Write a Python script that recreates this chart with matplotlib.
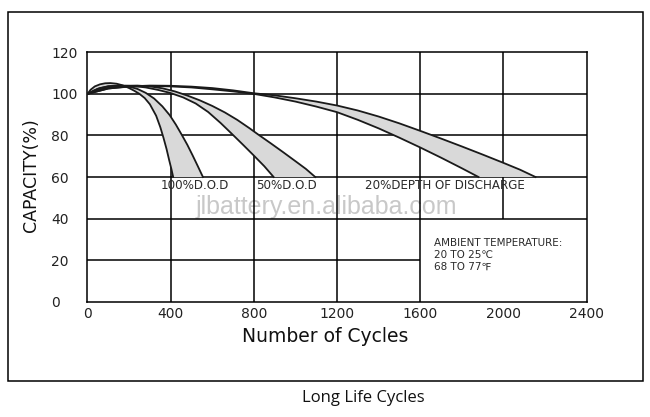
import numpy as np
import matplotlib
matplotlib.use("Agg")
import matplotlib.pyplot as plt
from matplotlib.patches import Rectangle

# capacity (%) vs cycles
# each depth of discharge band has a left (fast) and right (slow) edge
dod100_left_x = [0, 15, 35, 60, 85, 110, 140, 170, 200, 225, 250, 275, 300, 330, 350, 365, 380, 393, 403, 412]
dod100_left_y = [100, 102, 103.6, 104.6, 105.1, 105.2, 104.9, 104.1, 102.8, 101.5, 100, 98, 95, 89.5, 84, 79, 73.5, 68, 64, 60]
dod100_right_x = [0, 30, 60, 100, 150, 200, 240, 280, 320, 360, 395, 425, 455, 480, 505, 530, 555]
dod100_right_y = [100, 101.6, 102.8, 103.7, 104, 103.5, 102.4, 100.5, 97.8, 94, 89.8, 85.2, 80, 75.5, 70.5, 65.3, 60]

dod50_left_x = [0, 50, 100, 160, 220, 280, 340, 400, 460, 520, 580, 640, 700, 750, 800, 850, 895]
dod50_left_y = [100, 102.5, 103.6, 104, 103.8, 103.1, 101.9, 100.4, 98.3, 95.4, 91.3, 86.0, 80.2, 75.3, 70.3, 65.2, 60]
dod50_right_x = [0, 60, 120, 180, 240, 300, 360, 420, 480, 540, 600, 660, 720, 780, 820, 880, 940, 1000, 1050, 1095]
dod50_right_y = [100, 102.1, 103.3, 103.9, 104, 103.6, 102.7, 101.2, 99.2, 96.9, 94.2, 91.1, 87.5, 83.4, 80.5, 76.3, 72, 67.6, 63.9, 60]

dod20_left_x = [0, 100, 200, 300, 400, 500, 600, 700, 800, 900, 1000, 1100, 1200, 1300, 1400, 1500, 1600, 1700, 1800, 1880]
dod20_left_y = [100, 102.6, 103.5, 103.8, 103.6, 103.1, 102.2, 101.2, 100, 98.3, 96.3, 93.9, 91.2, 87.5, 83.4, 78.9, 74.2, 69.3, 64.2, 60]
dod20_right_x = [0, 100, 200, 300, 400, 500, 600, 700, 800, 900, 1000, 1100, 1200, 1300, 1400, 1500, 1600, 1700, 1800, 1900, 2000, 2080, 2154]
dod20_right_y = [100, 102.6, 103.6, 104, 103.9, 103.5, 102.8, 101.7, 100.3, 99.3, 97.9, 96.3, 94.4, 92.0, 89.1, 85.8, 82.2, 78.5, 74.7, 70.8, 66.8, 63.5, 60]

band_labels = ["100%D.O.D", "50%D.O.D", "20%DEPTH OF DISCHARGE"]
label_x = [350, 810, 1333]

x_ticks = [0, 400, 800, 1200, 1600, 2000, 2400]
y_ticks = [0, 20, 40, 60, 80, 100, 120]

fig = plt.figure(figsize=(6.5, 4.17), dpi=100)
ax = fig.add_axes([0.1346, 0.2765, 0.768, 0.598])
ax.set_xlim(0, 2400)
ax.set_ylim(0, 120)

# grid, leaving the corner box for the temperature note empty
lw = 1.1
for y in [40, 60, 80, 100]:
    ax.hlines(y, 0, 2400, color="black", lw=lw)
ax.hlines(20, 0, 1600, color="black", lw=lw)
for x in [400, 800, 1200, 1600]:
    ax.vlines(x, 0, 120, color="black", lw=lw)
ax.vlines(2000, 40, 120, color="black", lw=lw)

bands = [
    (dod100_left_x, dod100_left_y, dod100_right_x, dod100_right_y),
    (dod50_left_x, dod50_left_y, dod50_right_x, dod50_right_y),
    (dod20_left_x, dod20_left_y, dod20_right_x, dod20_right_y),
]
for lx, ly, rx, ry in bands:
    px = list(lx) + list(rx)[::-1]
    py = list(ly) + list(ry)[::-1]
    ax.fill(px, py, color="#d9d9d9", lw=0, zorder=2)
    ax.plot(lx, ly, color="#1a1a1a", lw=1.3, zorder=3, solid_joinstyle="round")
    ax.plot(rx, ry, color="#1a1a1a", lw=1.3, zorder=3, solid_joinstyle="round")

for txt, x in zip(band_labels, label_x):
    ax.text(x, 56, txt, fontsize=8.6, color="#2a2a2a", ha="left", va="center")

ax.text(1665, 22.5, "AMBIENT TEMPERATURE:\n20 TO 25\u2103\n68 TO 77\u2109",
        fontsize=7.5, color="#2a2a2a", ha="left", va="center", linespacing=1.25)

# watermark
ax.text(1150, 45.5, "jlbattery.en.alibaba.com", fontsize=18,
        family="Liberation Sans", color="#c8c8c8", ha="center", va="center", zorder=1)

ax.set_xticks(x_ticks)
ax.set_yticks(y_ticks)
ax.tick_params(axis="both", length=0, labelsize=10, labelcolor="#222222")
ax.tick_params(axis="x", pad=4)
ax.tick_params(axis="y", pad=26)
for lab in ax.get_yticklabels():
    lab.set_horizontalalignment("left")
for sp in ax.spines.values():
    sp.set_linewidth(lw)

fig.text(325 / 650, 1 - 337 / 417, "Number of Cycles", fontsize=13.5,
         ha="center", va="center", color="#111111")
fig.text(31 / 650, 1 - 175 / 417, "CAPACITY(%)", fontsize=12.5, rotation=90,
         ha="center", va="center", color="#111111")
fig.text(363 / 650, 1 - 398 / 417, "Long Life Cycles", fontsize=12,
         family="Open Sans", ha="center", va="center", color="#111111")

# outer frame
fig.patches.append(Rectangle((7.5 / 650, 1 - 381 / 417), (643 - 7.5) / 650,
                             (381 - 12.3) / 417, transform=fig.transFigure,
                             fill=False, edgecolor="black", lw=1.1))

fig.savefig("out.png", dpi=100)
